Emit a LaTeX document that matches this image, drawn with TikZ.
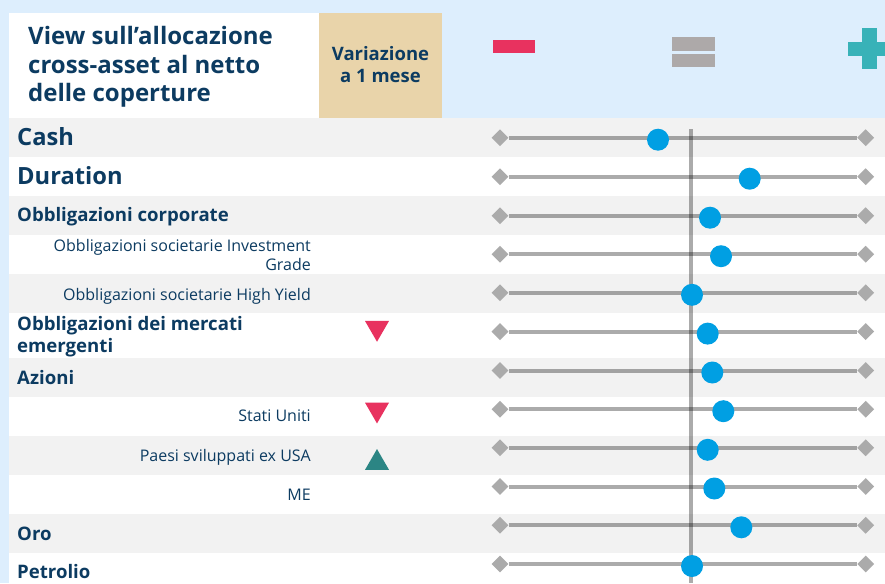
\documentclass[tikz,border=0pt]{standalone}
\usepackage{fontspec}
\setmainfont{Open Sans}
\usetikzlibrary{shapes.geometric}
\definecolor{skyback}{HTML}{DDEEFD}
\definecolor{rowgray}{HTML}{F2F2F2}
\definecolor{sandbox}{HTML}{E9D4AA}
\definecolor{navytext}{HTML}{0C3B61}
\definecolor{dotblue}{HTML}{009FE3}
\definecolor{minusred}{HTML}{E8325F}
\definecolor{equalgray}{HTML}{ADA9A9}
\definecolor{plusteal}{HTML}{38B2B8}
\definecolor{upteal}{HTML}{2B8584}
\begin{document}
\begin{tikzpicture}[x=1pt,y=-1pt]

        % Styles
        \tikzstyle{band}=[fill=rowgray]
        \tikzstyle{big label}=[anchor=base west,inner sep=0pt,text=navytext,font=\bfseries\fontsize{23.7}{28}\selectfont]
        \tikzstyle{main label}=[anchor=base west,inner sep=0pt,text=navytext,align=left,font=\bfseries\fontsize{18.6}{22}\selectfont]
        \tikzstyle{sub label}=[anchor=base east,inner sep=0pt,text=navytext,align=right,font=\fontsize{16}{18.3}\selectfont]
        \tikzstyle{end mark}=[diamond,fill=black!33,inner sep=0pt,minimum size=17pt]
        \tikzstyle{scale line}=[draw=black,opacity=0.33,line width=4pt]
        \tikzstyle{view dot}=[circle,fill=dotblue,inner sep=0pt,minimum size=22pt]
        \tikzstyle{trend}=[regular polygon,regular polygon sides=3,inner sep=0pt,minimum size=27.7pt]
        \tikzstyle{trend down}=[trend,fill=minusred,shape border rotate=180]
        \tikzstyle{trend up}=[trend,fill=upteal]
        %The graphic
        \useasboundingbox (0,0) rectangle (885,583);
        \fill[skyback] (0,0) rectangle (885,583);
        %header
        \fill[white] (9,13) rectangle (319,118);
        \fill[sandbox] (319,13) rectangle (442,118);
        \node[anchor=west,inner sep=0pt,text=navytext,align=left,font=\bfseries\fontsize{24}{28.5}\selectfont] (title) at (28,67)
            {View sull’allocazione\\cross-asset al netto\\delle coperture};
        \node[inner sep=0pt,text=navytext,align=center,font=\bfseries\fontsize{18.5}{22}\selectfont] (change) at (380.5,65)
            {Variazione\\a 1 mese};
        \fill[minusred] (493.3,40) rectangle (535,53.3);
        \fill[equalgray] (672.3,37.3) rectangle (715,50.7);
        \fill[equalgray] (672.3,53.7) rectangle (715,67.3);
        \fill[plusteal] (848,41.7) rectangle (890,56);
        \fill[plusteal] (861.7,28.3) rectangle (876.7,69.3);
        %rows
        \fill[white] (9,118) rectangle (885,583);
        \foreach \top/\bot in {118/157,196/235,274/313,358/397,436/475,514/553}
            \fill[band] (9,\top) rectangle (885,\bot);
        \node[big label] (cash) at (17,145.7) {Cash};
        \node[big label] (duration) at (17,184.7) {Duration};
        \node[main label] (corp) at (17,221.7) {Obbligazioni corporate};
        \node[main label,anchor=west] (embond) at (17,337) {Obbligazioni dei mercati\\emergenti};
        \node[main label] (equity) at (17,384) {Azioni};
        \node[main label] (gold) at (17,540) {Oro};
        \node[main label] (oil) at (17,578.5) {Petrolio};
        \node[sub label,anchor=east] (ig) at (311,255) {Obbligazioni societarie Investment\\Grade};
        \node[sub label] (hy) at (311,300) {Obbligazioni societarie High Yield};
        \node[sub label] (usa) at (311,421.7) {Stati Uniti};
        \node[sub label] (exusa) at (311,461) {Paesi sviluppati ex USA};
        \node[sub label] (em) at (311,500) {ME};
        \node[trend down] (embond trend) at (377,327.9) {};
        \node[trend down] (usa trend) at (377,409.6) {};
        \node[trend up] (exusa trend) at (377,462.9) {};
        %scales
        \foreach \y/\dx [count=\i] in {137.7/658,176.7/749.7,215.7/710,254.2/721,292.8/692,331.6/707.7,
                370.5/712.3,409.2/723.3,447.8/707.7,486.5/714.3,525.3/741.3,564/692}
        {
            \node[end mark] (lo\i) at (500,\y) {};
            \node[end mark] (hi\i) at (865.7,\y) {};
            \draw[scale line] (lo\i) -- (hi\i);
        }
        \coordinate (neutral top) at (690.5,129);
        \coordinate (neutral bot) at (690.5,583);
        \draw[scale line] (neutral top) -- (neutral bot);
        \foreach \y/\dx [count=\i] in {137.7/658,176.7/749.7,215.7/710,254.2/721,292.8/692,331.6/707.7,
                370.5/712.3,409.2/723.3,447.8/707.7,486.5/714.3,525.3/741.3,564/692}
            \node[view dot] (dot\i) at (\dx,\y+2) {};
\end{tikzpicture}
\end{document}
